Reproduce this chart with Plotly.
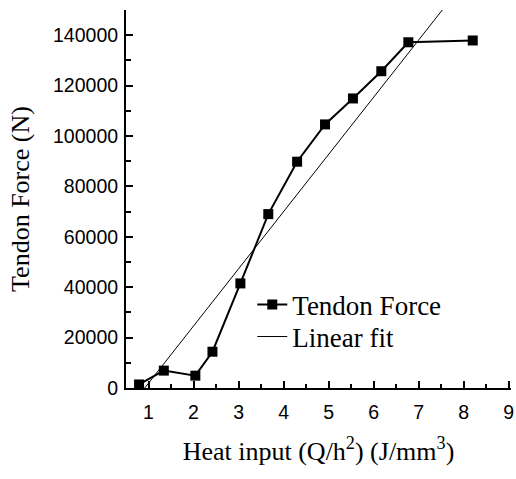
import plotly.graph_objects as go

# Data
heat_input = [0.79, 1.34, 2.04, 2.42, 3.04, 3.66, 4.30, 4.92, 5.54, 6.17, 6.77, 8.20]
tendon_force = [1400, 6900, 4900, 14400, 41500, 69000, 89800, 104600, 114900, 125700, 137200, 137900]

fit_slope = 22700.0
fit_intercept = -20790.0
fit_x = [min(heat_input), max(heat_input)]
fit_y = [fit_intercept + fit_slope * x for x in fit_x]

x_ticks = [1, 2, 3, 4, 5, 6, 7, 8, 9]
y_ticks = [0, 20000, 40000, 60000, 80000, 100000, 120000, 140000]

serif = "Liberation Serif, Times New Roman, serif"
sans = "Liberation Sans, Arial, sans-serif"

fig = go.Figure()
fig.add_trace(go.Scatter(
    x=heat_input, y=tendon_force, mode="lines+markers", name="Tendon Force",
    line=dict(color="black", width=2),
    marker=dict(symbol="square", size=10, color="black"),
    legend="legend",
))
fig.add_trace(go.Scatter(
    x=fit_x, y=fit_y, mode="lines", name="Linear fit",
    line=dict(color="black", width=1),
    legend="legend2",
))

legend_style = dict(
    xanchor="left", yanchor="middle",
    font=dict(family=serif, size=27, color="black"),
    bgcolor="rgba(0,0,0,0)",
)

fig.update_layout(
    width=516, height=479,
    margin=dict(l=126, r=5, t=10, b=91),
    paper_bgcolor="white", plot_bgcolor="white",
    showlegend=True,
    legend=dict(x=0.328, y=0.2196, **legend_style),
    legend2=dict(x=0.328, y=0.135, **legend_style),
    xaxis=dict(
        range=[0.5, 9.05], tickvals=x_ticks, showline=True, linecolor="black", linewidth=2,
        ticks="inside", ticklen=7, tickwidth=2, tickcolor="black",
        minor=dict(ticks="inside", ticklen=4, tickwidth=1.5, dtick=0.5, tick0=0, tickcolor="black"),
        showgrid=False, zeroline=False, automargin=False,
        tickfont=dict(family=sans, size=19.5, color="black"),
        ticklabelstandoff=6, ticklabeloverflow="allow",
        title=dict(text="Heat input (Q/h<sup>2</sup>) (J/mm<sup>3</sup>)",
                   font=dict(family=serif, size=26, color="black"), standoff=19),
    ),
    yaxis=dict(
        range=[0, 150000], tickvals=y_ticks, tickformat="d",
        showline=True, linecolor="black", linewidth=2,
        ticks="inside", ticklen=7, tickwidth=2, tickcolor="black",
        minor=dict(ticks="inside", ticklen=5, tickwidth=1.5, dtick=10000, tick0=0, tickcolor="black"),
        showgrid=False, zeroline=False, automargin=False,
        tickfont=dict(family=sans, size=19.5, color="black"),
        ticklabelstandoff=2,
        title=dict(text="Tendon Force (N)", font=dict(family=serif, size=26, color="black"), standoff=16),
    ),
)

# remove the page's default body margin so the 516x479 figure fills the window
fig.write_html(
    "out.html",
    config={"displayModeBar": False},
    post_script="document.body.style.margin='0';document.body.style.overflow='hidden';",
)
